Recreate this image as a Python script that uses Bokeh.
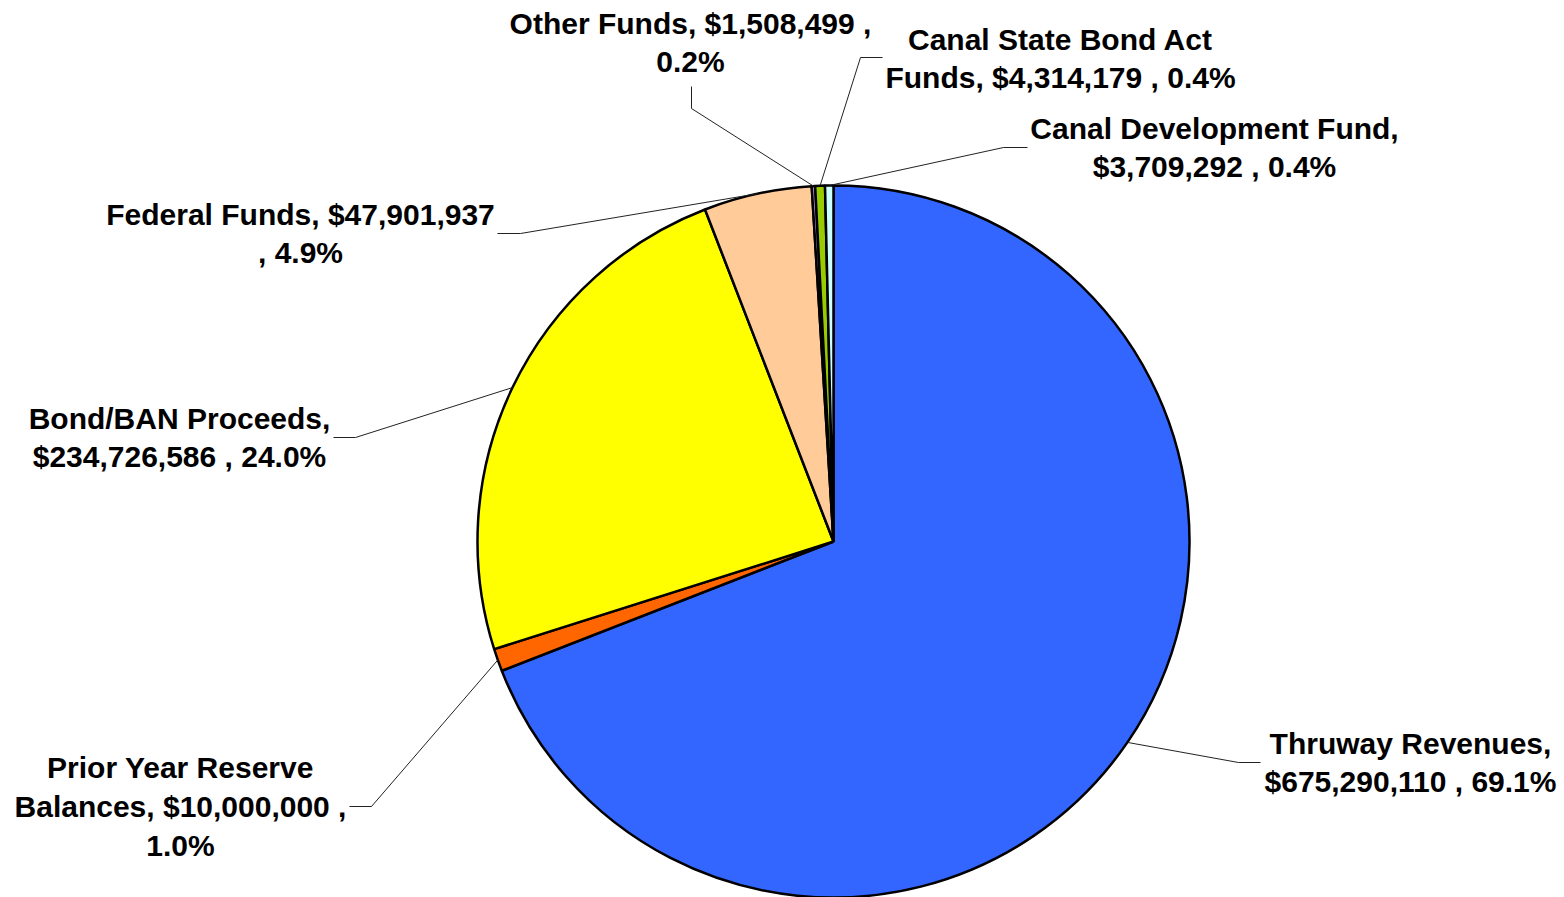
import numpy as np
from bokeh.plotting import figure
from bokeh.models import Range1d, ColumnDataSource
from bokeh.core.properties import value
from bokeh.embed import file_html
from bokeh.resources import INLINE

# ---- data ----
categories = ["Thruway Revenues", "Prior Year Reserve Balances", "Bond/BAN Proceeds",
              "Federal Funds", "Other Funds", "Canal State Bond Act Funds",
              "Canal Development Fund"]
amounts = [675290110, 10000000, 234726586, 47901937, 1508499, 4314179, 3709292]
colors = ["#3366FF", "#FF6600", "#FFFF00", "#FFCC99", "#CC99FF", "#99CC00", "#CCFFFF"]
labels = [
    "Thruway Revenues,\n$675,290,110 , 69.1%",
    "Prior Year Reserve\nBalances, $10,000,000 ,\n1.0%",
    "Bond/BAN Proceeds,\n$234,726,586 , 24.0%",
    "Federal Funds, $47,901,937\n, 4.9%",
    "Other Funds, $1,508,499 ,\n0.2%",
    "Canal State Bond Act\nFunds, $4,314,179 , 0.4%",
    "Canal Development Fund,\n$3,709,292 , 0.4%",
]

# ---- layout (pixel coords, y down) ----
W, H = 1564, 897
CX, CY, R = 833, 541, 356
label_pos = [(1410, 762), (180, 806), (179, 437), (300, 233), (690, 42), (1060, 58), (1214, 147)]
elbows = [(1238, 762), (371, 806), (355, 437), (520, 233), (691, 108), (860, 57), (1003, 147)]
ends = [(1260, 762), (349, 806), (333, 437), (497, 233), (691, 86), (882, 57), (1027, 147)]

def fy(py):
    return H - py

vals = np.array(amounts, dtype=float)
frac = vals / vals.sum()
cum = np.concatenate([[0.0], np.cumsum(frac)])
start = np.pi / 2 - 2 * np.pi * cum[:-1]
end = np.pi / 2 - 2 * np.pi * cum[1:]
mid = (start + end) / 2

p = figure(width=W, height=H, x_range=Range1d(0, W), y_range=Range1d(0, H),
           min_border=0, toolbar_location=None, output_backend="svg",
           x_axis_location=None, y_axis_location=None)
p.grid.visible = False
p.outline_line_color = None
p.background_fill_color = "white"
p.border_fill_color = "white"

src = ColumnDataSource(dict(start=start, end=end, color=colors))
p.wedge(x=CX, y=fy(CY), radius=R, start_angle="start", end_angle="end",
        direction="clock", fill_color="color", line_color="black", line_width=2.5,
        source=src)

# leader lines
xs, ys = [], []
for i in range(len(amounts)):
    ex = CX + R * np.cos(mid[i])
    ey = fy(CY) + R * np.sin(mid[i])
    xs.append([ex, elbows[i][0], ends[i][0]])
    ys.append([ey, fy(elbows[i][1]), fy(ends[i][1])])
p.multi_line(xs=xs, ys=ys, line_color="#222222", line_width=1)

tsrc = ColumnDataSource(dict(x=[q[0] for q in label_pos], y=[fy(q[1]) for q in label_pos], t=labels))
p.text(x="x", y="y", text="t", source=tsrc, text_align="center", text_baseline="middle",
       text_font=value("Liberation Sans"), text_font_style="bold", text_font_size="30px",
       text_line_height=1.17, text_color="black")

open("out.html", "w").write(file_html(p, INLINE))
